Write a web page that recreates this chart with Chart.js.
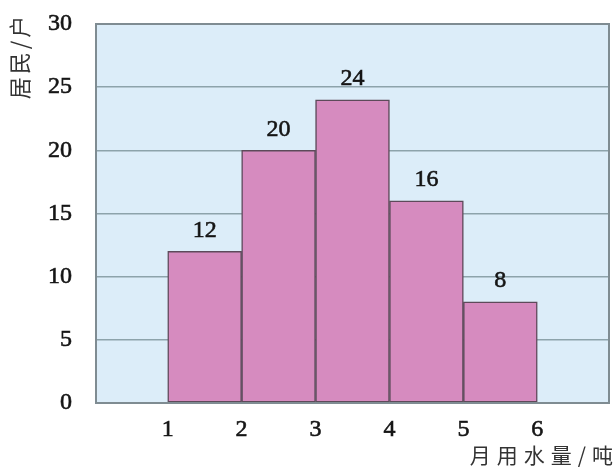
<!DOCTYPE html>
<html>
<head>
<meta charset="utf-8">
<script src="https://cdn.jsdelivr.net/npm/chart.js@4/dist/chart.umd.min.js"></script>
<style>
  html, body { margin: 0; padding: 0; background: #fff; }
  #wrap { width: 615px; height: 470px; position: relative; }
</style>
</head>
<body>
<div id="wrap"><canvas id="waterChart" width="615" height="470"></canvas></div>
<script>
// histogram: residents by monthly water use (tons)
const binCenters = [1.5, 2.5, 3.5, 4.5, 5.5];
const households = [12, 20, 24, 16, 8];
const xTicks = [1, 2, 3, 4, 5, 6];
const yTicks = [0, 5, 10, 15, 20, 25, 30];
const yTitle = "居民/户";
const xTitle = "月用水量/吨";

const serif = "'Liberation Serif', 'DejaVu Serif', serif";
const cjk = "'Noto Sans CJK SC', sans-serif";

// panel background + frame, value labels, axis titles
const decor = {
  id: "decor",
  beforeDraw(chart) {
    const { ctx, chartArea: a } = chart;
    ctx.save();
    ctx.fillStyle = "#dcedf9";
    ctx.fillRect(a.left, a.top, a.right - a.left, a.bottom - a.top);
    ctx.restore();
  },
  afterDatasetsDraw(chart) {
    const { ctx, chartArea: a } = chart;
    ctx.save();
    ctx.strokeStyle = "#7f8c92";
    ctx.lineWidth = 2;
    ctx.strokeRect(a.left, a.top, a.right - a.left, a.bottom - a.top);

    // numbers above bars (thin stroke to thicken the serif digits)
    const meta = chart.getDatasetMeta(0);
    ctx.fillStyle = "#151515";
    ctx.strokeStyle = "#151515";
    ctx.lineWidth = 0.6;
    ctx.font = "24px " + serif;
    ctx.textAlign = "center";
    ctx.textBaseline = "middle";
    meta.data.forEach((bar, i) => {
      ctx.fillText(String(households[i]), bar.x, bar.y - 21);
      ctx.strokeText(String(households[i]), bar.x, bar.y - 21);
    });

    // y title, rotated
    ctx.font = "22px " + cjk;
    ctx.fillStyle = "#333";
    ctx.letterSpacing = "3px";
    ctx.translate(20, 56);
    ctx.rotate(-Math.PI / 2);
    ctx.fillText(yTitle, 0, 0);
    ctx.setTransform(1, 0, 0, 1, 0, 0);

    // x title
    ctx.font = "21px " + cjk;
    ctx.letterSpacing = "6px";
    ctx.textAlign = "right";
    ctx.fillText(xTitle, 619, 455);
    ctx.restore();
  }
};

new Chart(document.getElementById("waterChart"), {
  type: "bar",
  data: {
    datasets: [{
      data: binCenters.map((x, i) => ({ x: x, y: households[i] })),
      backgroundColor: "#d68bbf",
      borderColor: "#5d4a5a",
      borderWidth: 1.5,
      borderSkipped: false,
      barPercentage: 1,
      categoryPercentage: 1
    }]
  },
  options: {
    responsive: false,
    animation: false,
    layout: { padding: { top: 24, right: 6, left: 0, bottom: 0 } },
    plugins: { legend: { display: false }, tooltip: { enabled: false } },
    scales: {
      x: {
        type: "linear",
        offset: false,
        min: 0.03,
        max: 6.97,
        afterBuildTicks: s => { s.ticks = xTicks.map(v => ({ value: v })); },
        afterFit: s => { s.height = 67; s.paddingLeft = 0; s.paddingRight = 0; },
        grid: { display: false, drawTicks: false },
        border: { display: false },
        ticks: {
          padding: 12,
          color: "#151515",
          textStrokeColor: "#151515",
          textStrokeWidth: 0.6,
          font: { family: serif, size: 24 }
        }
      },
      y: {
        min: 0,
        max: 30,
        afterBuildTicks: s => { s.ticks = yTicks.map(v => ({ value: v })); },
        afterFit: s => { s.width = 96; s.paddingTop = 0; s.paddingBottom = 0; },
        grid: {
          color: c => (c.tick.value === 0 || c.tick.value === 30) ? "rgba(0,0,0,0)" : "#8da3ab",
          lineWidth: 1.5,
          drawTicks: false
        },
        border: { display: false },
        ticks: {
          padding: 24,
          color: "#151515",
          textStrokeColor: "#151515",
          textStrokeWidth: 0.6,
          font: { family: serif, size: 24 }
        }
      }
    }
  },
  plugins: [decor]
});
</script>
</body>
</html>
